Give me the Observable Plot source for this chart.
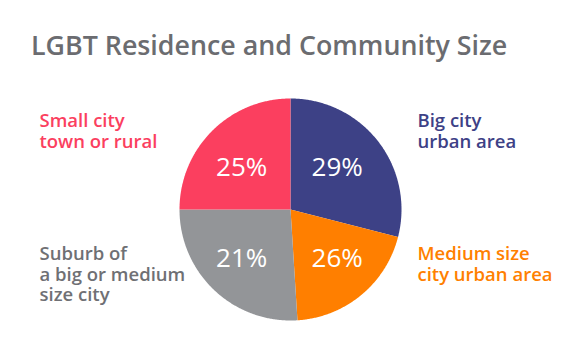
<!DOCTYPE html>
<html>
<head>
<meta charset="utf-8">
<script src="https://cdn.jsdelivr.net/npm/d3@7"></script>
<script src="https://cdn.jsdelivr.net/npm/@observablehq/plot@0.6"></script>
<style>
  body { margin: 0; background: #fff; }
  #title { font: 600 26.8px "Open Sans", sans-serif; color: #6b6c70; padding: 31px 0 0 31px; height: 49px; line-height: 28px; box-sizing: content-box; white-space: nowrap; }
</style>
</head>
<body>
<div id="title">LGBT Residence and Community Size</div>
<div id="chart"></div>
<script>
// Data
const categories = ["Big city urban area", "Medium size city urban area", "Suburb of a big or medium size city", "Small city town or rural"];
const labelLines = ["Big city\nurban area", "Medium size\ncity urban area", "Suburb of\na big or medium\nsize city", "Small city\ntown or rural"];
const shares = [29, 20, 26, 25];            // slice sizes as drawn
const pctLabels = ["29%", "26%", "21%", "25%"]; // printed labels
const colors = ["#3d4186", "#ff7f00", "#939598", "#fb3f5f"];
const labelColors = ["#3d4186", "#ff7f00", "#6f7074", "#fb3f5f"];

// layout
const W = 563, H = 276, cx = 290, cy = 129, R = 111;

const arcs = d3.pie().sort(null).value(d => d)(shares);
const slices = arcs.map((a, i) => ({cat: categories[i], a0: a.startAngle, a1: a.endAngle, mid: (a.startAngle + a.endAngle) / 2, pct: pctLabels[i], lines: labelLines[i], lc: labelColors[i]}));

const pts = [];
for (const s of slices) {
  pts.push({cat: s.cat, x: 0, y: 0});
  const n = Math.max(2, Math.ceil((s.a1 - s.a0) / (Math.PI / 360)));
  for (let k = 0; k <= n; k++) {
    const a = s.a0 + (s.a1 - s.a0) * k / n;
    pts.push({cat: s.cat, x: R * Math.sin(a), y: -R * Math.cos(a)});
  }
  pts.push({cat: s.cat, x: 0, y: 0});
}

const right = d => Math.sin(d.mid) > 0;
const upper = d => Math.cos(d.mid) > 0;

const chart = Plot.plot({
  width: W, height: H,
  margin: 0,
  x: {domain: [-cx, W - cx], range: [0, W], axis: null},
  y: {domain: [-cy, H - cy], range: [0, H], axis: null},
  color: {domain: categories, range: colors},
  style: {fontFamily: "'Open Sans', sans-serif", background: "white"},
  marks: [
    Plot.line(pts, {x: "x", y: "y", z: "cat", fill: "cat", stroke: "none", curve: "linear"}),
    Plot.text(slices, {
      x: d => right(d) ? R * 0.42 : -R * 0.44,
      y: d => upper(d) ? -R * 0.38 : R * 0.44,
      text: "pct", fill: "white", fontSize: 26, fontWeight: 500
    }),
    ...slices.map(s => Plot.text([s], {
      x: d => right(d) ? R + 16 : -R - 140,
      y: d => upper(d) ? -97 : 36,
      text: "lines", fill: s.lc, fontSize: 18.5, fontWeight: 600,
      textAnchor: "start", lineAnchor: "top", lineHeight: 1.11
    }))
  ]
});
document.getElementById("chart").appendChild(chart);
</script>
</body>
</html>
